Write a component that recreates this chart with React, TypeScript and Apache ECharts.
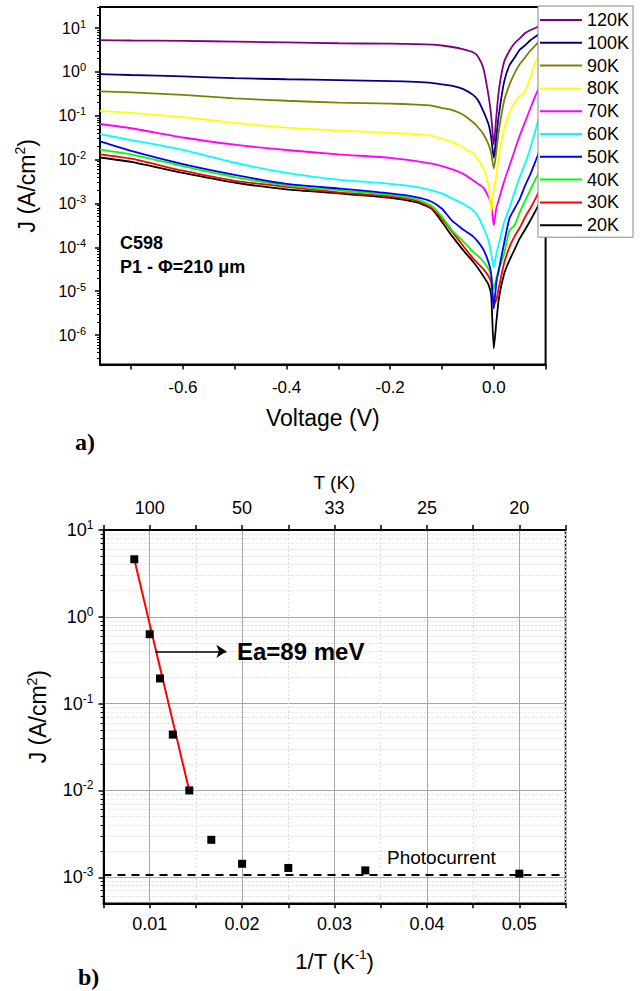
import React, { useEffect, useRef } from 'react';
import * as echarts from 'echarts';

const FONT = "'Liberation Sans', Arial, sans-serif";
const SERIF = "'Liberation Serif', 'Times New Roman', serif";

// ---------- (a) J–V curves at several temperatures ----------
const voltage = [-0.76, -0.7, -0.6, -0.5, -0.4, -0.3, -0.2, -0.15, -0.12, -0.1, -0.08, -0.06, -0.04, -0.03, -0.02, -0.01, -0.005, 0, 0.005, 0.01, 0.02, 0.03, 0.04, 0.05, 0.06, 0.07, 0.08, 0.09, 0.1];

const J_120K = [5.3, 5.2, 5.1, 4.9, 4.7, 4.5, 4.4, 4.3, 4.2, 4.0, 3.7, 3.3, 2.8, 2.2, 1.2, 0.28, 0.10, 0.022, 0.10, 0.40, 1.7, 3.0, 4.5, 5.8, 7.6, 8.9, 10, 11.5, 12.6];
const J_100K = [0.89, 0.85, 0.79, 0.72, 0.68, 0.65, 0.62, 0.59, 0.56, 0.52, 0.48, 0.41, 0.30, 0.22, 0.126, 0.063, 0.032, 0.011, 0.035, 0.11, 0.60, 1.4, 2.1, 3.2, 4.0, 5.2, 6.3, 7.6, 8.9];
const J_90K = [0.36, 0.34, 0.30, 0.25, 0.22, 0.20, 0.19, 0.18, 0.17, 0.15, 0.135, 0.107, 0.071, 0.054, 0.038, 0.022, 0.014, 0.0063, 0.016, 0.047, 0.22, 0.50, 0.93, 1.5, 2.1, 3.0, 4.0, 5.2, 6.3];
const J_80K = [0.13, 0.117, 0.093, 0.069, 0.054, 0.046, 0.041, 0.038, 0.035, 0.030, 0.025, 0.019, 0.0138, 0.010, 0.0063, 0.0025, 0.00063, 0.0020, 0.0045, 0.0126, 0.050, 0.112, 0.20, 0.28, 0.35, 0.71, 1.6, 2.4, 3.0];
const J_70K = [0.065, 0.052, 0.032, 0.022, 0.0166, 0.0132, 0.011, 0.0093, 0.0081, 0.0071, 0.006, 0.0048, 0.0034, 0.0028, 0.0023, 0.0014, 0.001, 0.00032, 0.00079, 0.00126, 0.0032, 0.0071, 0.016, 0.035, 0.071, 0.141, 0.28, 0.50, 0.79];
const J_60K = [0.038, 0.028, 0.0166, 0.0085, 0.005, 0.0035, 0.0028, 0.0024, 0.002, 0.0017, 0.0013, 0.001, 0.0007, 0.0005, 0.00028, 0.00014, 7.1e-5, 3.5e-5, 7.1e-5, 1.26e-4, 3.8e-4, 7.9e-4, 0.0018, 0.004, 0.0079, 0.0178, 0.045, 0.112, 0.2];
const J_50K = [0.026, 0.0158, 0.0079, 0.0045, 0.0028, 0.0022, 0.0017, 0.0014, 0.0011, 0.00076, 0.0004, 0.00026, 0.000178, 0.000132, 8.9e-5, 4.5e-5, 2.5e-5, 4.0e-6, 1.6e-5, 3.2e-5, 1.26e-4, 4.5e-4, 7.6e-4, 0.00126, 0.0025, 0.0045, 0.0089, 0.0178, 0.032];
const J_40K = [0.017, 0.0132, 0.0071, 0.004, 0.0026, 0.002, 0.00158, 0.00126, 0.00089, 0.0005, 0.00024, 0.000141, 7.9e-5, 6.3e-5, 4.7e-5, 3.2e-5, 2.2e-5, 1.12e-5, 2.0e-5, 3.2e-5, 7.2e-5, 2.4e-4, 3.2e-4, 6.3e-4, 0.00112, 0.002, 0.0035, 0.0056, 0.0079];
const J_30K = [0.0132, 0.0105, 0.0056, 0.0033, 0.0024, 0.0018, 0.00145, 0.00117, 0.00079, 0.00045, 0.000224, 0.000112, 5.6e-5, 4.2e-5, 3.2e-5, 2.2e-5, 1.6e-5, 5.0e-6, 6.3e-6, 1.26e-5, 4.4e-5, 1.0e-4, 1.78e-4, 2.8e-4, 4.8e-4, 7.6e-4, 0.00126, 0.0022, 0.0035];
const J_20K = [0.0112, 0.0089, 0.005, 0.003, 0.0021, 0.0017, 0.00135, 0.00107, 0.00076, 0.00038, 0.000178, 8.9e-5, 4.7e-5, 3.3e-5, 2.2e-5, 1.4e-5, 7.9e-6, 5.0e-7, 2.0e-6, 7.1e-6, 2.5e-5, 5.0e-5, 8.9e-5, 1.58e-4, 2.5e-4, 4.0e-4, 6.6e-4, 0.00112, 0.0019];

const curveNames = ['120K', '100K', '90K', '80K', '70K', '60K', '50K', '40K', '30K', '20K'];
const curveData = [J_120K, J_100K, J_90K, J_80K, J_70K, J_60K, J_50K, J_40K, J_30K, J_20K];
const curveColors = ['#800080', '#000080', '#808000', '#FFFF00', '#FF00FF', '#00FFFF', '#0000FF', '#00FF00', '#FF0000', '#000000'];

const voltageTicks = [-0.7, -0.6, -0.5, -0.4, -0.3, -0.2, -0.1, 0, 0.1];
const voltageLabels = [-0.6, -0.4, -0.2, 0];
const decadesA = [-6, -5, -4, -3, -2, -1, 0, 1];

// ---------- (b) Arrhenius plot ----------
const temperatures = [120, 100, 90, 80, 70, 60, 50, 40, 30, 20];
const J_vs_T = [4.6, 0.63, 0.195, 0.044, 0.0100, 0.0027, 0.00143, 0.00128, 0.00120, 0.00110];
const fitT = [120, 70];
const fitJ = [4.6, 0.0099];
const photocurrentJ = 0.00108;
const invTMajor = [0.01, 0.02, 0.03, 0.04, 0.05];
const invTMinor = [0.005, 0.015, 0.025, 0.035, 0.045, 0.055];
const invTAll = [0.005, 0.01, 0.015, 0.02, 0.025, 0.03, 0.035, 0.04, 0.045, 0.05, 0.055];
const topTLabels = ['100', '50', '33', '25', '20'];
const decadesB = [-3, -2, -1, 0, 1];
const arrowJ = 0.40;
const arrowFrom = 0.0106;
const arrowTo = 0.0183;

const lg = Math.log10;

function minorLogTicks(lo: number, hi: number) {
  const out: number[] = [];
  for (let n = Math.floor(lo); n <= Math.ceil(hi); n++) {
    for (let k = 2; k <= 9; k++) {
      const v = n + Math.log10(k);
      if (v > lo && v < hi) out.push(v);
    }
  }
  return out;
}

const supRich = (base: number, sup: number) => ({
  b: { fontSize: base, fontFamily: FONT, color: '#000', lineHeight: base + 4 },
  s: { fontSize: sup, fontFamily: FONT, color: '#000', verticalAlign: 'top', lineHeight: sup + 1 },
});

function buildOption(): any {
  const yMinA = -6.67, yMaxA = 1.48;
  const yMinB = -3.3, yMaxB = 1;
  const xMinB = 0.005, xMaxB = 0.055;

  const blackLine = (w: number) => ({ show: true, onZero: false, lineStyle: { color: '#000', width: w } });
  const noLine = { show: false, onZero: false };

  const series: any[] = curveData
    .map((arr, i) => ({
      name: curveNames[i],
      type: 'line',
      xAxisIndex: 0,
      yAxisIndex: 0,
      data: voltage.map((v, j) => [v, lg(arr[j])]),
      symbol: 'none',
      smooth: 0.2,
      color: curveColors[i],
      lineStyle: { color: curveColors[i], width: 1.8 },
      z: 3,
    }))
    .reverse();

  series.push({
    name: 'fit',
    type: 'line',
    xAxisIndex: 1,
    yAxisIndex: 2,
    data: fitT.map((t, i) => [1 / t, lg(fitJ[i])]),
    symbol: 'none',
    color: '#FF0000',
    lineStyle: { color: '#FF0000', width: 2 },
    z: 3,
    markLine: {
      silent: true,
      symbol: ['none', 'none'],
      label: { show: false },
      lineStyle: { color: '#000', width: 2, type: [8, 6] },
      data: [{ yAxis: lg(photocurrentJ) }],
    },
  });
  series.push({
    name: 'J(1/T)',
    type: 'scatter',
    xAxisIndex: 1,
    yAxisIndex: 2,
    data: temperatures.map((t, i) => [1 / t, lg(J_vs_T[i])]),
    symbol: 'rect',
    symbolSize: 8,
    itemStyle: { color: '#000', opacity: 1 },
    z: 5,
    markLine: {
      silent: true,
      symbol: ['none', 'arrow'],
      symbolSize: 10,
      label: { show: false },
      lineStyle: { color: '#000', width: 1.5, type: 'solid' },
      data: [[{ coord: [arrowFrom, lg(arrowJ)] }, { coord: [arrowTo, lg(arrowJ)] }]],
    },
  });

  const nameRich = {
    n: { fontSize: 23, fontFamily: FONT, color: '#000', lineHeight: 27 },
    s: { fontSize: 14, fontFamily: FONT, color: '#000', verticalAlign: 'top', lineHeight: 15 },
  };

  return {
    animation: false,
    backgroundColor: '#fff',
    textStyle: { fontFamily: FONT, color: '#000' },
    grid: [
      { left: 100, top: 7, width: 445.6, height: 357.5, show: true, borderColor: '#000', borderWidth: 2, backgroundColor: 'transparent' },
      { left: 103.5, top: 530, width: 462, height: 373.3, show: true, borderColor: '#000', borderWidth: 1.5, backgroundColor: 'transparent' },
    ],
    legend: {
      data: curveNames,
      orient: 'vertical',
      left: 538,
      top: 6,
      icon: 'rect',
      itemWidth: 42,
      itemHeight: 2,
      itemGap: 4.8,
      itemTextGap: 5,
      padding: [5, 4, 3, 2],
      backgroundColor: '#fff',
      borderColor: '#888',
      borderWidth: 1,
      borderRadius: 0,
      selectedMode: false,
      textStyle: { fontSize: 18, fontFamily: FONT, color: '#000', lineHeight: 18 },
      z: 10,
    },
    xAxis: [
      {
        gridIndex: 0,
        type: 'value',
        min: -0.76,
        max: 0.1,
        position: 'bottom',
        axisLine: blackLine(2),
        axisTick: { show: true, customValues: voltageTicks, length: 5, lineStyle: { color: '#000', width: 1.5 } },
        axisLabel: { customValues: voltageLabels, formatter: (v: number) => v.toFixed(1), fontSize: 17, fontFamily: FONT, color: '#000', margin: 14 },
        splitLine: { show: false },
        name: 'Voltage (V)',
        nameLocation: 'middle',
        nameGap: 42,
        nameTextStyle: { fontSize: 23, fontFamily: FONT, color: '#000' },
      },
      {
        gridIndex: 1,
        type: 'value',
        min: xMinB,
        max: xMaxB,
        position: 'bottom',
        axisLine: blackLine(2),
        axisTick: { show: true, customValues: invTMajor, length: 5, lineStyle: { color: '#000', width: 1.5 } },
        axisLabel: { customValues: invTMajor, formatter: (v: number) => v.toFixed(2), fontSize: 18, fontFamily: FONT, color: '#000', margin: 12 },
        splitLine: { show: true, lineStyle: { color: '#a8a8a8', width: 1 } },
        name: '{n|1/T (K}{s|-1}{n|)}',
        nameLocation: 'middle',
        nameGap: 45,
        nameTextStyle: { rich: { n: { fontSize: 22, fontFamily: FONT, color: '#000', lineHeight: 26 }, s: { fontSize: 13, fontFamily: FONT, color: '#000', verticalAlign: 'top', lineHeight: 14 } } },
      },
      {
        gridIndex: 1,
        type: 'value',
        min: xMinB,
        max: xMaxB,
        position: 'bottom',
        axisLine: noLine,
        axisTick: { show: true, customValues: invTMinor, length: 5, lineStyle: { color: '#000', width: 1.5 } },
        axisLabel: { show: false },
        splitLine: { show: true, lineStyle: { color: '#dcdcdc', width: 1, type: [2, 2] } },
      },
      {
        gridIndex: 1,
        type: 'value',
        min: xMinB,
        max: xMaxB,
        position: 'top',
        axisLine: blackLine(2),
        axisTick: { show: true, customValues: invTAll, length: 5, lineStyle: { color: '#000', width: 1.5 } },
        axisLabel: {
          customValues: invTMajor,
          formatter: (v: number) => {
            const i = invTMajor.findIndex((t) => Math.abs(t - v) < 1e-6);
            return i >= 0 ? topTLabels[i] : '';
          },
          fontSize: 18,
          fontFamily: FONT,
          color: '#000',
          margin: 13,
        },
        splitLine: { show: false },
        name: 'T (K)',
        nameLocation: 'middle',
        nameGap: 38,
        nameTextStyle: { fontSize: 19, fontFamily: FONT, color: '#000' },
      },
    ],
    yAxis: [
      {
        gridIndex: 0,
        type: 'value',
        position: 'left',
        min: yMinA,
        max: yMaxA,
        axisLine: blackLine(2),
        axisTick: { show: true, customValues: decadesA, length: 5, lineStyle: { color: '#000', width: 1.5 } },
        axisLabel: { customValues: decadesA, formatter: (v: number) => `{b|10}{s|${Math.round(v)}}`, rich: supRich(16, 11), margin: 14 },
        splitLine: { show: false },
        name: '{n|J (A/cm}{s|2}{n|)}',
        nameLocation: 'middle',
        nameGap: 60,
        nameTextStyle: { rich: nameRich },
      },
      {
        gridIndex: 0,
        type: 'value',
        position: 'left',
        min: yMinA,
        max: yMaxA,
        axisLine: noLine,
        axisTick: { show: true, customValues: minorLogTicks(yMinA, yMaxA), length: 3, lineStyle: { color: '#000', width: 1 } },
        axisLabel: { show: false },
        splitLine: { show: false },
      },
      {
        gridIndex: 1,
        type: 'value',
        position: 'left',
        min: yMinB,
        max: yMaxB,
        axisLine: blackLine(2),
        axisTick: { show: true, customValues: decadesB, length: 5, lineStyle: { color: '#000', width: 1.5 } },
        axisLabel: { customValues: decadesB, formatter: (v: number) => `{b|10}{s|${Math.round(v)}}`, rich: supRich(18, 12), margin: 10 },
        splitLine: { show: true, lineStyle: { color: '#a8a8a8', width: 1 } },
        name: '{n|J (A/cm}{s|2}{n|)}',
        nameLocation: 'middle',
        nameGap: 52,
        nameTextStyle: { rich: nameRich },
      },
      {
        gridIndex: 1,
        type: 'value',
        position: 'left',
        min: yMinB,
        max: yMaxB,
        axisLine: noLine,
        axisTick: { show: true, customValues: minorLogTicks(yMinB, yMaxB), length: 3, lineStyle: { color: '#000', width: 1 } },
        axisLabel: { show: false },
        splitLine: { show: true, lineStyle: { color: '#dcdcdc', width: 1, type: [2, 2] } },
      },
    ],
    series,
    graphic: [
      { type: 'text', x: 120, y: 243, style: { text: 'C598', font: `bold 18px ${FONT}`, fill: '#000', verticalAlign: 'middle' }, z: 20 },
      { type: 'text', x: 120, y: 267, style: { text: 'P1 - Φ=210 μm', font: `bold 18px ${FONT}`, fill: '#000', verticalAlign: 'middle' }, z: 20 },
      { type: 'text', x: 75, y: 442, style: { text: 'a)', font: `bold 24px ${SERIF}`, fill: '#000', verticalAlign: 'middle' }, z: 20 },
      { type: 'text', x: 78, y: 977, style: { text: 'b)', font: `bold 24px ${SERIF}`, fill: '#000', verticalAlign: 'middle' }, z: 20 },
      { type: 'text', x: 237, y: 651, style: { text: 'Ea=89 meV', font: `bold 24px ${FONT}`, fill: '#000', verticalAlign: 'middle' }, z: 20 },
      { type: 'text', x: 387, y: 857, style: { text: 'Photocurrent', font: `19px ${FONT}`, fill: '#000', verticalAlign: 'middle' }, z: 20 },
    ],
  };
}

export default function App() {
  const ref = useRef<HTMLDivElement>(null);
  useEffect(() => {
    if (!ref.current) return;
    const chart = echarts.init(ref.current, null, { renderer: 'svg' });
    chart.setOption(buildOption());
    return () => chart.dispose();
  }, []);
  return <div ref={ref} style={{ position: 'absolute', left: 0, top: 0, width: 642, height: 991, background: '#fff' }} />;
}
